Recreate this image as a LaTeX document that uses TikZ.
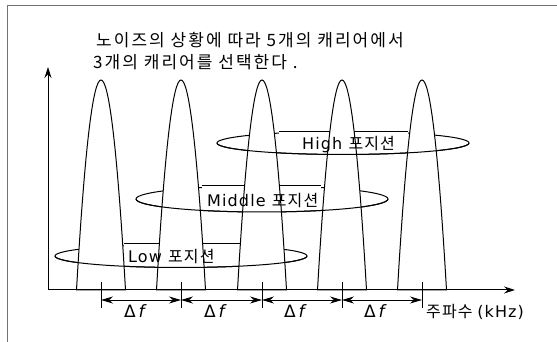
\documentclass[tikz,border=0pt]{standalone}
\usepackage{fontspec}
\setmainfont{DejaVu Sans}
\newfontfamily\krt[LetterSpace=12]{Noto Sans CJK KR}
\newfontfamily\krl[LetterSpace=7]{Noto Sans CJK KR}
\newfontfamily\lat[LetterSpace=7]{DejaVu Sans}
\usetikzlibrary{arrows.meta}
\begin{document}
\begin{tikzpicture}[x=1pt,y=1pt,
  line/.style={line width=1pt, black},
  peak/.style={line width=1pt, draw=black, fill=white},
  ring/.style={line width=1pt, black},
  boxfill/.style={fill=white},
  txt/.style={inner sep=0pt, anchor=base west},
  dim/.style={line width=0.9pt, {Stealth[length=12pt,width=7pt,fill=black]}-{Stealth[length=12pt,width=7pt,fill=black]}},
  axis/.style={line width=1pt, -{Stealth[length=11pt,width=7pt,fill=black]}},
  tick/.style={line width=0.9pt},
]
\useasboundingbox (0,0) rectangle (557,342);
\fill[white] (0,0) rectangle (557,342);
\draw[black!55, line width=1pt] (7,0) -- (7,336) -- (557,336);

% ellipse centres
\coordinate (eL) at (181,86);
\coordinate (eM) at (262,143);
\coordinate (eH) at (343,199);

% full ellipses (top arcs go behind the carriers)
\draw[ring] (eL) ellipse[x radius=126pt, y radius=11.5pt];
\draw[ring] (eM) ellipse[x radius=126pt, y radius=13pt];
\draw[ring] (eH) ellipse[x radius=126pt, y radius=11.5pt];

% label boxes
\fill[boxfill] (124,88) rectangle (240,98);
\draw[line] (124,98) -- (240,98);
\fill[boxfill] (202,145) rectangle (321,156.5);
\draw[line] (202,156.5) -- (321,156.5);
\fill[boxfill] (279,201) rectangle (408,210.5);
\draw[line] (279,210.5) -- (408,210.5);

% carriers
\foreach \c in {101,181,262,342,422}{
  \filldraw[peak] (\c-24.5,52) .. controls (\c-8.17,332) and (\c+8.17,332) .. (\c+24.5,52) -- cycle;
}

% front (bottom) arcs of the ellipses
\draw[ring] ([xshift=126pt]eL) arc[start angle=0, end angle=-180, x radius=126pt, y radius=11.5pt];
\draw[ring] ([xshift=126pt]eM) arc[start angle=0, end angle=-180, x radius=126pt, y radius=13pt];
\draw[ring] ([xshift=126pt]eH) arc[start angle=0, end angle=-180, x radius=126pt, y radius=11.5pt];

% axes
\coordinate (o) at (48,52);
\coordinate (ytop) at (48,275);
\coordinate (xend) at (515,52);
\draw[axis] (o) -- (ytop);
\draw[axis] (o) -- (xend);

% ticks and spacing arrows
\foreach \i/\c in {1/101,2/181,3/262,4/342,5/422}{
  \coordinate (tb\i) at (\c,34);
  \coordinate (tt\i) at (\c,60);
  \coordinate (a\i) at (\c,42);
  \draw[tick] (tb\i) -- (tt\i);
}
\draw[dim] (a1) -- (a2);
\draw[dim] (a2) -- (a3);
\draw[dim] (a3) -- (a4);
\draw[dim] (a4) -- (a5);

\foreach \i/\x in {1/124,2/204,3/284,4/364}{
  \node[txt] (dl\i) at (\x,24) {\fontsize{17}{17}\selectfont Δ\,\itshape f};
}

% texts
\node[txt] (freq) at (426,24) {\krl\fontsize{16}{16}\selectfont 주파수 {\lat(kHz)}};
\node[txt] (title1) at (96,295) {\krt\fontsize{17}{17}\selectfont 노이즈의 상황에 따라 5개의 캐리어에서};
\node[txt] (title2) at (93,273) {\krt\fontsize{17}{17}\selectfont 3개의 캐리어를 선택한다 .};
\node[txt] (lblH) at (302,192) {\fontsize{16}{16}\selectfont\lat High {\krl 포지션}};
\node[txt] (lblM) at (207,135) {\fontsize{16}{16}\selectfont\lat Middle {\krl 포지션}};
\node[txt] (lblL) at (128,79) {\fontsize{16}{16}\selectfont\lat Low {\krl 포지션}};
\end{tikzpicture}
\end{document}
